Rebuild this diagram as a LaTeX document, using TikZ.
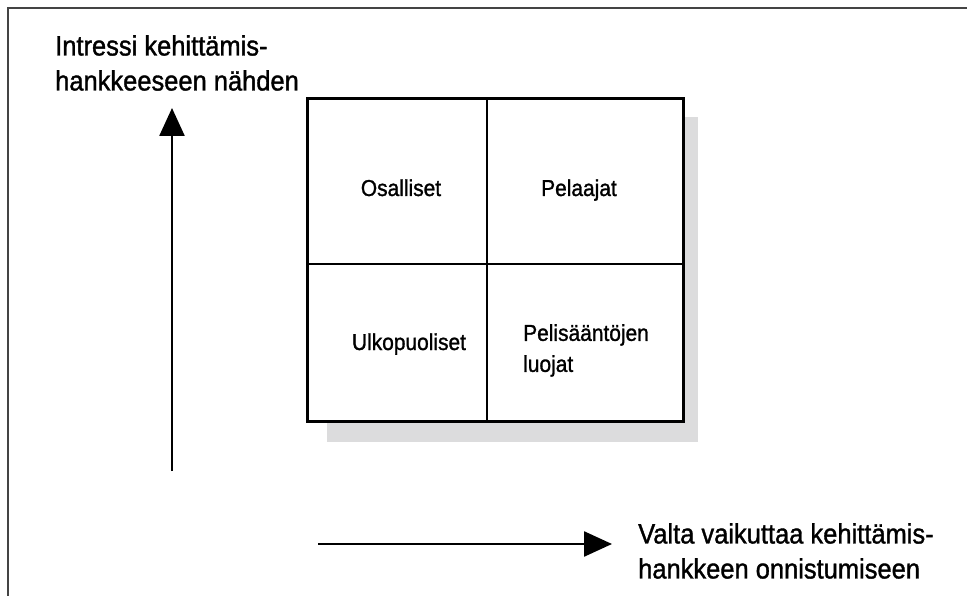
\documentclass[tikz,border=0pt]{standalone}
\usepackage{fontspec}
\setmainfont{Liberation Sans}[FakeStretch=0.91,FakeBold=1.2]
\usetikzlibrary{arrows.meta}
\definecolor{shadowgray}{HTML}{DCDCDD}
\definecolor{framegray}{HTML}{444444}
\tikzset{
  axislabel/.style={font=\fontsize{28}{35}\selectfont, align=left, inner sep=0pt, anchor=north west},
  celllabel/.style={font=\fontsize{23}{31}\selectfont, inner sep=0pt},
  axis/.style={line width=2.5pt, -{Triangle[length=28pt,width=25pt]}},
  outerbox/.style={draw, line width=3pt, fill=white, minimum width=376pt, minimum height=323pt, inner sep=0pt},
  divider/.style={line width=2pt},
}
\begin{document}
\begin{tikzpicture}[x=1pt,y=-1pt]
\useasboundingbox (0,0) rectangle (967,596);
% frame (cropped)
\draw[framegray, line width=1.5pt] (967,8) -- (8,8) -- (8,596);
% shadow
\fill[shadowgray] (327,117) rectangle (698,442);
% box
\node[outerbox] (box) at (495.5,260) {};
\coordinate (vt) at (487,98.5);
\coordinate (vb) at (487,421.5);
\coordinate (hl) at (307.5,264);
\coordinate (hr) at (683.5,264);
\draw[divider] (vt) -- (vb);
\draw[divider] (hl) -- (hr);
% cell labels
\node[celllabel, anchor=base] (osa) at (401,196) {Osalliset};
\node[celllabel, anchor=base] (pel) at (579,196) {Pelaajat};
\node[celllabel, anchor=base] (ulk) at (409,350) {Ulkopuoliset};
\node[celllabel, anchor=north west, align=left] (sp) at (523,324) {Pelisääntöjen\\luojat};
% axis labels
\node[axislabel] (ylab) at (55,35) {Intressi kehittämis-\\hankkeeseen nähden};
\node[axislabel] (xlab) at (638,523) {Valta vaikuttaa kehittämis-\\hankkeen onnistumiseen};
% axes
\coordinate (ys) at (172,471);
\coordinate (ye) at (172,108);
\coordinate (xs) at (318,544);
\coordinate (xe) at (612,544);
\draw[axis] (ys) -- (ye);
\draw[axis] (xs) -- (xe);
\end{tikzpicture}
\end{document}
